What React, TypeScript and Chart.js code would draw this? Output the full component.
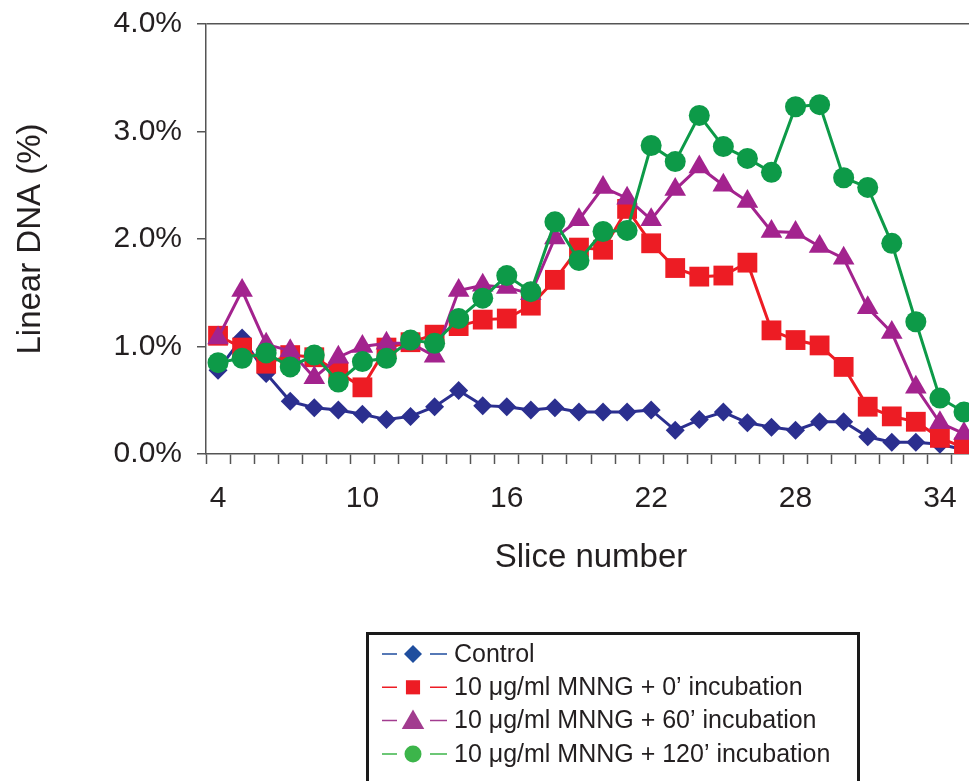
import React, { useEffect, useRef } from 'react';
import { Chart, registerables } from 'chart.js';
import { drawPoint } from 'chart.js/helpers';

Chart.register(...registerables);

// Gradient slice numbers (x categories)
const slices = [4, 5, 6, 7, 8, 9, 10, 11, 12, 13, 14, 15, 16, 17, 18, 19, 20, 21, 22, 23, 24, 25, 26, 27, 28, 29, 30, 31, 32, 33, 34, 35];
// Slices that carry a printed label on the x axis
const labeledSlices = [4, 10, 16, 22, 28, 34];
// Y axis ticks, in percent
const yTicks = [0, 1, 2, 3, 4];

// Linear DNA (%) per slice
const control = [0.78, 1.08, 0.75, 0.49, 0.43, 0.41, 0.37, 0.32, 0.35, 0.44, 0.59, 0.45, 0.44, 0.41, 0.43, 0.39, 0.39, 0.39, 0.41, 0.22, 0.32, 0.39, 0.29, 0.25, 0.22, 0.30, 0.30, 0.16, 0.11, 0.11, 0.09, 0.04];
const mnng0 = [1.10, 0.99, 0.84, 0.92, 0.90, 0.76, 0.62, 0.99, 1.04, 1.11, 1.19, 1.25, 1.26, 1.38, 1.62, 1.92, 1.90, 2.28, 1.96, 1.73, 1.65, 1.66, 1.78, 1.15, 1.06, 1.01, 0.81, 0.44, 0.35, 0.30, 0.15, 0.06];
const mnng60 = [1.08, 1.52, 1.02, 0.96, 0.71, 0.90, 1.00, 1.03, 1.03, 0.91, 1.52, 1.57, 1.55, 1.49, 2.01, 2.18, 2.48, 2.38, 2.18, 2.46, 2.67, 2.50, 2.35, 2.07, 2.06, 1.93, 1.82, 1.36, 1.13, 0.62, 0.29, 0.19];
const mnng120 = [0.85, 0.89, 0.94, 0.81, 0.92, 0.67, 0.86, 0.89, 1.06, 1.03, 1.26, 1.45, 1.66, 1.51, 2.16, 1.80, 2.07, 2.08, 2.87, 2.72, 3.15, 2.86, 2.75, 2.62, 3.23, 3.25, 2.57, 2.48, 1.96, 1.23, 0.52, 0.39];

const seriesNames = [
  'Control',
  '10 μg/ml MNNG + 0’ incubation',
  '10 μg/ml MNNG + 60’ incubation',
  '10 μg/ml MNNG + 120’ incubation',
];

const FONT = "'Liberation Sans', Arial, Helvetica, sans-serif";
const TEXT = '#231f20';
const AXIS = '#555555';

type LegendMark = { color: string; style: string; radius: number };
const legendMarks: LegendMark[] = [
  { color: '#1f4e9e', style: 'rectRot', radius: 9 },
  { color: '#ed1c24', style: 'rect', radius: 10 },
  { color: '#a23c8f', style: 'triangle', radius: 13 },
  { color: '#3cb54a', style: 'circle', radius: 8.5 },
];

// Boxed legend below the plot: short line, marker, short line, then the name
const boxedLegend = {
  id: 'boxedLegend',
  afterDraw(chart: Chart) {
    const ctx = chart.ctx;
    ctx.save();
    ctx.strokeStyle = '#1a1a1a';
    ctx.lineWidth = 3;
    ctx.strokeRect(367.5, 633.5, 491, 200);
    ctx.font = `25px ${FONT}`;
    ctx.textBaseline = 'middle';
    ctx.textAlign = 'left';
    seriesNames.forEach((name, i) => {
      const y = 654 + i * 33.3;
      const m = legendMarks[i];
      ctx.strokeStyle = m.color;
      ctx.lineWidth = 1.5;
      ctx.beginPath();
      ctx.moveTo(382, y);
      ctx.lineTo(397, y);
      ctx.moveTo(430, y);
      ctx.lineTo(447, y);
      ctx.stroke();
      ctx.fillStyle = m.color;
      drawPoint(ctx, { pointStyle: m.style as any, radius: m.radius, rotation: 0, borderWidth: 0 } as any, 413, y + (m.style === 'triangle' ? 2 : 0));
      ctx.fillStyle = TEXT;
      ctx.fillText(name, 454, y + 1);
    });
    ctx.restore();
  },
};

export default function App() {
  const canvasRef = useRef<HTMLCanvasElement | null>(null);

  useEffect(() => {
    if (!canvasRef.current) return;
    Chart.defaults.font.family = FONT;
    const chart = new Chart(canvasRef.current, {
      type: 'line',
      data: {
        labels: slices.map(String),
        datasets: [
          {
            label: seriesNames[0],
            data: control,
            borderColor: '#2b2f8f',
            backgroundColor: '#2b2f8f',
            borderWidth: 3,
            pointStyle: 'rectRot',
            pointRadius: 9.5,
            pointBorderWidth: 0,
            order: 4,
          },
          {
            label: seriesNames[1],
            data: mnng0,
            borderColor: '#ed1c24',
            backgroundColor: '#ed1c24',
            borderWidth: 3,
            pointStyle: 'rect',
            pointRadius: 14,
            pointBorderWidth: 0,
            order: 3,
          },
          {
            label: seriesNames[2],
            data: mnng60,
            borderColor: '#a3238e',
            backgroundColor: '#a3238e',
            borderWidth: 3,
            pointStyle: 'triangle',
            pointRadius: 12.5,
            pointBorderWidth: 0,
            order: 2,
          },
          {
            label: seriesNames[3],
            data: mnng120,
            borderColor: '#0d9a48',
            backgroundColor: '#0d9a48',
            borderWidth: 3,
            pointStyle: 'circle',
            pointRadius: 10.5,
            pointBorderWidth: 0,
            order: 1,
          },
        ],
      },
      options: {
        responsive: false,
        animation: false,
        devicePixelRatio: 1,
        layout: { padding: { top: 24, right: 11, bottom: 181, left: 0 } },
        plugins: {
          legend: { display: false },
          tooltip: { enabled: false },
        },
        elements: { line: { tension: 0 } },
        scales: {
          x: {
            type: 'category',
            offset: true,
            afterFit: (s: any) => { s.height = 146; },
            grid: {
              offset: true,
              drawOnChartArea: false,
              drawTicks: true,
              tickLength: 10,
              tickColor: AXIS,
              tickWidth: 1.5,
            },
            border: { display: true, color: AXIS, width: 1.5 },
            ticks: {
              autoSkip: false,
              maxRotation: 0,
              padding: 17,
              color: TEXT,
              font: { size: 30 },
              callback: (_v: any, i: number) => (labeledSlices.includes(slices[i]) ? String(slices[i]) : ''),
            },
            title: {
              display: true,
              text: 'Slice number',
              color: TEXT,
              font: { size: 33 },
              padding: { top: 0, bottom: 22 },
            },
          },
          y: {
            min: yTicks[0],
            max: yTicks[yTicks.length - 1],
            afterFit: (s: any) => {
              s.width = 206;
              s.paddingTop = 0;
              s.paddingBottom = 0;
            },
            afterBuildTicks: (s: any) => { s.ticks = yTicks.map((v) => ({ value: v })); },
            grid: {
              drawOnChartArea: true,
              color: (c: any) => (c.tick && c.tick.value === yTicks[yTicks.length - 1] ? AXIS : 'rgba(0,0,0,0)'),
              lineWidth: 1.5,
              tickLength: 9,
              tickColor: AXIS,
              tickWidth: 1.5,
            },
            border: { display: true, color: AXIS, width: 1.5 },
            ticks: {
              padding: 15,
              color: TEXT,
              font: { size: 30 },
              callback: (v: any) => `${Number(v).toFixed(1)}%`,
            },
            title: {
              display: true,
              text: 'Linear DNA (%)',
              color: TEXT,
              font: { size: 33 },
              padding: { top: 11, bottom: 0 },
            },
          },
        },
      },
      plugins: [boxedLegend],
    });
    return () => chart.destroy();
  }, []);

  return (
    <div style={{ position: 'fixed', left: 0, top: 0, width: 969, height: 781, overflow: 'hidden', background: '#ffffff' }}>
      <canvas ref={canvasRef} width={990} height={781} style={{ display: 'block' }} />
    </div>
  );
}
